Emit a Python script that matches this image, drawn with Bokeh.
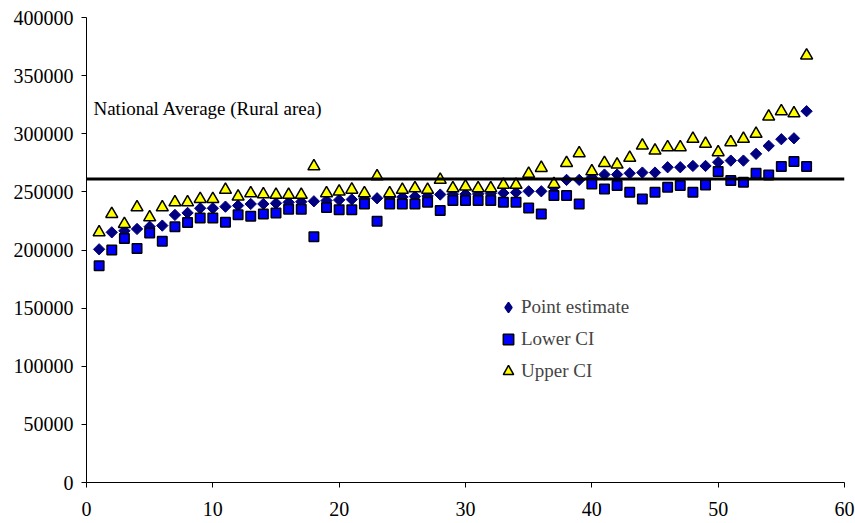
import math
from bokeh.plotting import figure
from bokeh.models import Span, Label, Legend, LegendItem, FixedTicker, BasicTickFormatter
from bokeh.embed import file_html
from bokeh.resources import INLINE

# Area rank (sorted by point estimate)
area = list(range(1, 58))

point_estimate = [200600, 215200, 216500, 218100, 220000, 221000, 230200, 231900, 235900, 235900,
                  237300, 238200, 239600, 239600, 240200, 241000, 241500, 241900, 242500, 243000,
                  243500, 244000, 244500, 245000, 245500, 246000, 246500, 247700, 248000, 248000,
                  248200, 248500, 249000, 249500, 250500, 250500, 254000, 260300, 260300, 262500,
                  264900, 264900, 266000, 266600, 266600, 271200, 271200, 272300, 272300, 275500,
                  276900, 276900, 282700, 289600, 295300, 296100, 319400]

lower_ci = [186500, 200000, 210000, 201200, 214700, 207500, 220100, 223600, 227600, 227600,
            223800, 230400, 229000, 231000, 231900, 235000, 235000, 211500, 236500, 234700,
            234700, 239600, 224700, 239600, 239600, 239600, 241000, 233900, 242500, 242500,
            242500, 242500, 241000, 241000, 236200, 231000, 246800, 246800, 239600, 256800,
            252500, 255400, 249700, 243900, 249600, 253900, 255400, 249600, 256000, 267500,
            259700, 258300, 266000, 264600, 271800, 276100, 271800]

upper_ci = [215200, 231000, 222400, 236700, 228100, 236700, 241000, 241000, 243900, 243900,
            251700, 245900, 248800, 247900, 247400, 247400, 247400, 272000, 248800, 250200,
            251900, 248800, 263400, 248800, 251700, 253100, 251700, 260300, 253100, 254500,
            253100, 253100, 256000, 256000, 265500, 270600, 256800, 274900, 283200, 267700,
            274900, 273500, 279300, 289800, 285500, 288400, 288400, 295600, 291300, 284100,
            292700, 295600, 299900, 314800, 319400, 317600, 367300]

national_average = 261000
national_label = "National Average (Rural area)"

x_ticks = [0, 10, 20, 30, 40, 50, 60]
y_ticks = [0, 50000, 100000, 150000, 200000, 250000, 300000, 350000, 400000]

FONT = "serif"

p = figure(width=855, height=523, x_range=(0, 60), y_range=(0, 400000),
           output_backend="svg", toolbar_location=None,
           min_border_left=86, min_border_right=11, min_border_top=17, min_border_bottom=41)
p.outline_line_color = None
p.grid.visible = False
p.background_fill_color = "white"
p.border_fill_color = "white"

for ax in (p.xaxis[0], p.yaxis[0]):
    ax.axis_line_color = "black"
    ax.axis_line_width = 1
    ax.major_tick_line_color = "black"
    ax.major_tick_out = 5
    ax.major_tick_in = 0
    ax.minor_tick_line_color = None
    ax.major_label_text_font = FONT
    ax.major_label_text_font_size = "20px"
    ax.major_label_text_color = "black"

p.xaxis[0].ticker = FixedTicker(ticks=x_ticks)
p.yaxis[0].ticker = FixedTicker(ticks=y_ticks)
p.yaxis[0].formatter = BasicTickFormatter(use_scientific=False)
p.xaxis[0].major_label_standoff = 14
p.yaxis[0].major_label_standoff = 8

# series drawn in order: estimate, lower bound, upper bound on top
r_pt = p.scatter(area, point_estimate, marker="square", angle=math.pi / 4, size=8,
                 fill_color="#000080", line_color="#000080", line_width=1)
r_lo = p.scatter(area, lower_ci, marker="square", size=9.5, fill_color="#0000FF",
                 line_color="black", line_width=1.5)
r_up = p.scatter(area, upper_ci, marker="triangle", size=12, fill_color="#FFFF00",
                 line_color="black", line_width=1.5)
# legend swatch for the point estimate; its single point lies outside the visible range
r_pt_key = p.scatter([-10], [-10000], marker="diamond", size=13,
                     fill_color="#000080", line_color="#000080", line_width=1.5)

# national average reference line, drawn above the markers
p.add_layout(Span(location=national_average, dimension="width",
                  line_color="black", line_width=3))
p.add_layout(Label(x=0.55, y=321500, text=national_label, text_font=FONT,
                   text_font_size="19px", text_color="black", text_baseline="middle"))

legend = Legend(items=[LegendItem(label="Point estimate", renderers=[r_pt_key]),
                       LegendItem(label="Lower CI", renderers=[r_lo]),
                       LegendItem(label="Upper CI", renderers=[r_up])],
                location=(409, 98), orientation="vertical",
                label_text_font=FONT, label_text_font_size="19px",
                glyph_width=26, glyph_height=26, label_height=26, spacing=6,
                label_standoff=0, padding=0, margin=0,
                border_line_alpha=0, background_fill_alpha=0)
p.add_layout(legend)

open("out.html", "w").write(file_html(p, INLINE))
